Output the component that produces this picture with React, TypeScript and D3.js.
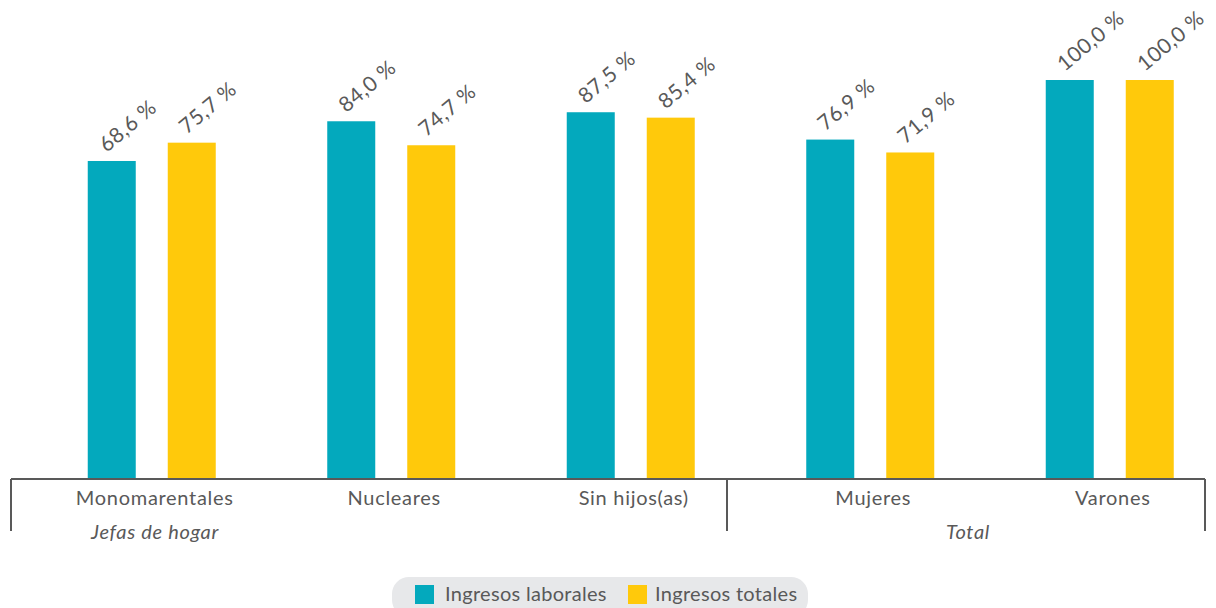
import React from "react";
import * as d3 from "d3";

const categories = ["Monomarentales", "Nucleares", "Sin hijos(as)", "Mujeres", "Varones"];
const laborales = [68.6, 84.0, 87.5, 76.9, 100.0];
const totales = [75.7, 74.7, 85.4, 71.9, 100.0];
const seriesNames = ["Ingresos laborales", "Ingresos totales"];
const groups = [
  { label: "Jefas de hogar", from: 0, to: 2 },
  { label: "Total", from: 3, to: 4 },
];

const W = 1216;
const H = 608;
const COLORS = ["#03a9bd", "#ffc90b"];
const TEXT = "#595959";
const FONT = "Lato, 'Open Sans', sans-serif";

export default function App() {
  const baseline = 479;
  const y = d3.scaleLinear().domain([-54.7, 100]).range([baseline, 80]);
  const x = d3.scaleBand<string>().domain(categories).range([32, 1229.5]).padding(0);
  const inner = d3.scaleBand<string>().domain(seriesNames).range([-64, 64]).paddingInner(0.4).paddingOuter(0);
  const series = [laborales, totales];

  const center = (c: string) => (x(c) ?? 0) + x.bandwidth() / 2;

  return (
    <svg width={W} height={H} style={{ position: "absolute", left: 0, top: 0, display: "block" }}>
      <rect width={W} height={H} fill="#fff" />
      {series.map((vals, si) =>
        categories.map((c, i) => {
          const bx = center(c) + (inner(seriesNames[si]) ?? 0);
          const top = y(vals[i]);
          return (
            <g key={`${si}-${i}`}>
              <rect x={bx} y={top} width={inner.bandwidth()} height={baseline - top} fill={COLORS[si]} />
              <text
                transform={`translate(${bx + inner.bandwidth() / 2 - 5},${top - 8}) rotate(-40)`}
                fontFamily={FONT}
                fontSize={21}
                letterSpacing={0.6}
                fill={TEXT}
              >
                {vals[i].toFixed(1).replace(".", ",")} %
              </text>
            </g>
          );
        })
      )}
      {/* axis */}
      <line x1={11} x2={1205} y1={baseline} y2={baseline} stroke={TEXT} strokeWidth={2} />
      {[11, 727, 1205].map((lx) => (
        <line key={lx} x1={lx} x2={lx} y1={baseline} y2={531} stroke={TEXT} strokeWidth={2} />
      ))}
      {categories.map((c) => (
        <text key={c} x={center(c) + 3} y={505} textAnchor="middle" fontFamily={FONT} fontSize={20} letterSpacing={0.7} fill={TEXT}>
          {c}
        </text>
      ))}
      <text x={155} y={539} textAnchor="middle" fontFamily={FONT} fontSize={20} letterSpacing={0.7} fontStyle="italic" fill={TEXT}>
        {groups[0].label}
      </text>
      <text x={968} y={539} textAnchor="middle" fontFamily={FONT} fontSize={20} letterSpacing={0.7} fontStyle="italic" fill={TEXT}>
        {groups[1].label}
      </text>
      {/* legend */}
      <rect x={392} y={577} width={416} height={40} rx={17} fill="#e7e8ea" />
      <rect x={415} y={585} width={19} height={19} fill={COLORS[0]} />
      <text x={445} y={601} fontFamily={FONT} fontSize={20} letterSpacing={0.3} fill={TEXT}>
        {seriesNames[0]}
      </text>
      <rect x={628} y={585} width={19} height={19} fill={COLORS[1]} />
      <text x={655} y={601} fontFamily={FONT} fontSize={20} letterSpacing={0.3} fill={TEXT}>
        {seriesNames[1]}
      </text>
    </svg>
  );
}
